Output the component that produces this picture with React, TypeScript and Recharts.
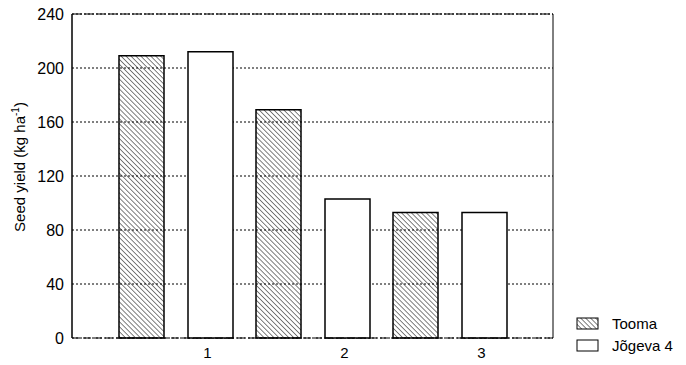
import { BarChart, Bar, XAxis, YAxis, CartesianGrid, ReferenceLine, Label } from 'recharts';

const categories = ['1', '2', '3'];
const tooma = [209, 169, 93];
const jogeva = [212, 103, 93];
const yTicks = [0, 40, 80, 120, 160, 200, 240];

const data = categories.map((c, i) => ({ name: c, tooma: tooma[i], jogeva: jogeva[i] }));

const font = '"Liberation Sans", Arial, sans-serif';

const XTick = (props: any) => {
  const { x, y, payload } = props;
  return (
    <text x={x + 32} y={y} dy={12} textAnchor="middle" fontFamily={font} fontSize={15} fill="#000">
      {payload.value}
    </text>
  );
};

const YLabel = () => (
  <text x={25} y={167} transform="rotate(-90 25 167)" textAnchor="middle" fontFamily={font} fontSize={15} fill="#000">
    Seed yield (kg ha
    <tspan dy={-6} fontSize={10}>-1</tspan>
    <tspan dy={6}>)</tspan>
  </text>
);

const LegendBox = () => (
  <svg width={110} height={45} style={{ position: 'absolute', left: 576, top: 314 }}>
    <defs>
      <pattern id="hatchL" patternUnits="userSpaceOnUse" width={3.5} height={3.5} patternTransform="rotate(-45)">
        <line x1={0} y1={0} x2={0} y2={3.5} stroke="#000" strokeWidth={1} />
      </pattern>
    </defs>
    <rect x={1} y={4} width={21} height={11} fill="url(#hatchL)" stroke="#000" />
    <text x={36} y={15} fontFamily={font} fontSize={15} fill="#000">Tooma</text>
    <rect x={1} y={26} width={21} height={11} fill="#fff" stroke="#000" />
    <text x={36} y={37} fontFamily={font} fontSize={15} fill="#000">Jõgeva 4</text>
  </svg>
);

export default function App() {
  return (
    <div style={{ position: 'absolute', left: 0, top: 0, width: 686, height: 365, background: '#fff' }}>
      <BarChart
        width={686}
        height={365}
        data={data}
        margin={{ top: 14, right: 133, bottom: 7, left: 0 }}
        barSize={45}
        barGap={24}
      >
        <defs>
          <pattern id="hatch" patternUnits="userSpaceOnUse" width={3.5} height={3.5} patternTransform="rotate(-45)">
            <line x1={0} y1={0} x2={0} y2={3.5} stroke="#000" strokeWidth={1} />
          </pattern>
        </defs>
        <CartesianGrid yAxisId="left" vertical={false} stroke="#000" strokeDasharray="2 2" />
        <CartesianGrid
          yAxisId="left"
          horizontal={false}
          stroke="#000"
          verticalCoordinatesGenerator={({ offset }: any) => [offset.left, offset.left + offset.width]}
        />
        <ReferenceLine yAxisId="left" y={240} stroke="#000" strokeDasharray="10 2" />
        <XAxis
          dataKey="name"
          height={20}
          padding={{ left: 35, right: 35 }}
          tickLine={false}
          axisLine={{ stroke: '#000', strokeDasharray: '8 3' }}
          tick={<XTick />}
          interval={0}
        />
        <YAxis
          yAxisId="left"
          width={72}
          domain={[0, 240]}
          ticks={yTicks}
          tickLine={false}
          axisLine={{ stroke: '#000' }}
          tick={{ fill: '#000', fontSize: 16, fontFamily: font }}
        >
          <Label content={<YLabel />} />
        </YAxis>
        <Bar yAxisId="left" dataKey="tooma" name="Tooma" fill="url(#hatch)" stroke="#000" strokeWidth={1.5} isAnimationActive={false} />
        <Bar yAxisId="left" dataKey="jogeva" name="Jõgeva 4" fill="#fff" stroke="#000" strokeWidth={1.5} isAnimationActive={false} />
      </BarChart>
      <LegendBox />
    </div>
  );
}
